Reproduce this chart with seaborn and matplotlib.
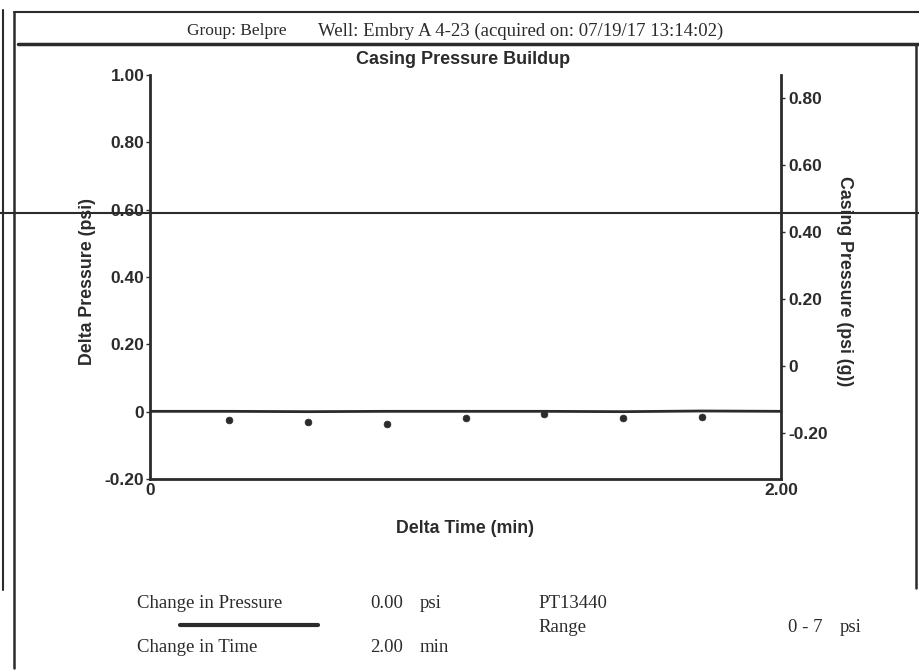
import numpy as np
import pandas as pd
import matplotlib.pyplot as plt
import seaborn as sns
from matplotlib.lines import Line2D

# values
delta_time = [0.25, 0.50, 0.75, 1.00, 1.25, 1.50, 1.75]
delta_pressure = [-0.025, -0.032, -0.037, -0.020, -0.008, -0.020, -0.017]
casing_time = [0.0, 0.25, 0.50, 0.75, 1.00, 1.25, 1.50, 1.75, 2.00]
casing_pressure = [-0.135, -0.135, -0.136, -0.135, -0.135, -0.135, -0.136, -0.134, -0.135]

left_ticks = [-0.20, 0, 0.20, 0.40, 0.60, 0.80, 1.00]
left_labels = ["-0.20", "0", "0.20", "0.40", "0.60", "0.80", "1.00"]
right_ticks = [-0.20, 0, 0.20, 0.40, 0.60, 0.80]
right_labels = ["-0.20", "0", "0.20", "0.40", "0.60", "0.80"]
x_ticks = [0, 2.0]
x_labels = ["0", "2.00"]

header_group = "Group: Belpre"
header_well = "Well: Embry A 4-23 (acquired on: 07/19/17 13:14:02)"

sns.set_style("white")
plt.rcParams['font.family'] = ['Liberation Sans', 'DejaVu Sans']
SERIF = ['Liberation Serif', 'DejaVu Serif']
INK = "#2b2b2b"

W, H = 919, 670
fig = plt.figure(figsize=(W / 100, H / 100), dpi=100)
ax = fig.add_axes([150 / W, 1 - 479 / H, 631 / W, 404 / H])

dp = pd.DataFrame({"t": delta_time, "dp": delta_pressure})
cp = pd.DataFrame({"t": casing_time, "cp": casing_pressure})

sns.scatterplot(data=dp, x="t", y="dp", ax=ax, color=INK, s=24, edgecolor=INK, linewidth=0.5, zorder=3)
ax.set_xlim(0, 2.0)
ax.set_ylim(-0.20, 1.00)

ax2 = ax.twinx()
sns.lineplot(data=cp, x="t", y="cp", ax=ax2, color=INK, linewidth=2.0)
ax2.set_ylim(-0.337, 0.869)

for a in (ax, ax2):
    for s in a.spines.values():
        s.set_visible(False)
ax.spines["left"].set_visible(True)
ax.spines["bottom"].set_visible(True)
ax2.spines["right"].set_visible(True)
for s in (ax.spines["left"], ax.spines["bottom"], ax2.spines["right"]):
    s.set_color(INK)
    s.set_linewidth(2.0)

TICK_FS = 12.5
ax.set_xticks(x_ticks)
ax.set_xticklabels(x_labels, fontsize=TICK_FS, fontweight="bold", color=INK)
ax.set_yticks(left_ticks)
ax.set_yticklabels(left_labels, fontsize=TICK_FS, fontweight="bold", color=INK)
ax2.set_yticks(right_ticks)
ax2.set_yticklabels(right_labels, fontsize=TICK_FS, fontweight="bold", color=INK)
ax.tick_params(axis="y", length=3, width=1, pad=1, colors=INK, left=True)
ax.tick_params(axis="x", length=0, pad=3, colors=INK, bottom=True)
ax2.tick_params(axis="y", length=3, width=1, pad=2, colors=INK, right=True)

ax.set_xlabel("Delta Time (min)", fontsize=12.8, fontweight="bold", color=INK)
ax.xaxis.set_label_coords(0.499, -0.101)
ax.set_ylabel("Delta Pressure (psi)", fontsize=12.8, fontweight="bold", color=INK)
ax.yaxis.set_label_coords(-0.085, 0.49)
ax2.set_ylabel("Casing Pressure (psi (g))", fontsize=12.8, fontweight="bold", color=INK, rotation=270, va="center")
ax2.yaxis.set_label_coords(1.101, 0.49)

def fx(px):
    return px / W

def fy(py):
    return 1 - py / H

fig.text(fx(463), fy(60), "Casing Pressure Buildup", ha="center", va="center",
         fontsize=13, fontweight="bold", color=INK)
fig.text(fx(187), fy(31), header_group, ha="left", va="center", fontsize=12.5, family=SERIF, color=INK)
fig.text(fx(318), fy(31), header_well, ha="left", va="center", fontsize=13.5, family=SERIF, color=INK)

# summary block under the chart
bottom_rows = [
    (137, 604, "Change in Pressure"), (370, 604, "0.00"), (420, 604, "psi"),
    (538, 603, "PT13440"), (538, 627, "Range"), (788, 628, "0 - 7"), (840, 628, "psi"),
    (137, 648, "Change in Time"), (370, 648, "2.00"), (420, 648, "min"),
]
for x, y, txt in bottom_rows:
    fig.text(fx(x), fy(y), txt, ha="left", va="center", fontsize=13.5, family=SERIF, color=INK)

# page frame and scan marks
frame = [
    ((14, 919), (12, 12), 1.5), ((14, 14), (12, 668), 1.8), ((18, 919), (44, 44), 2.5),
    ((916, 916), (44, 588), 1.8), ((180, 318), (625, 625), 3.0), ((0, 919), (213, 213), 1.5),
    ((3, 3), (10, 590), 1.5),
]
for xs, ys, lw in frame:
    fig.add_artist(Line2D([fx(xs[0]), fx(xs[1])], [fy(ys[0]), fy(ys[1])],
                          transform=fig.transFigure, color=INK, linewidth=lw))

fig.savefig("out.png", dpi=100)
